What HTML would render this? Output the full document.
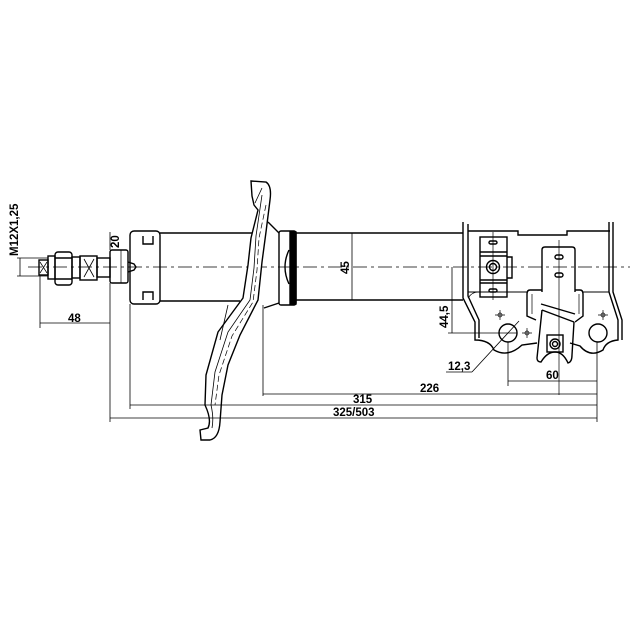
<!DOCTYPE html>
<html><head><meta charset="utf-8"><style>
html,body{margin:0;padding:0;background:#fff;}
svg{display:block}
text{font-family:"Liberation Sans",sans-serif;font-weight:bold;font-size:11.5px;fill:#000}
</style></head><body>
<svg width="640" height="640" viewBox="0 0 640 640" xmlns="http://www.w3.org/2000/svg">
<g fill="none" stroke="#000" stroke-width="1.4">
<line x1="28" y1="267" x2="630" y2="267" stroke-width="0.8" stroke-dasharray="14,4,3,4"/>
<line x1="20" y1="258" x2="20" y2="276" stroke-width="0.8"/>
<line x1="17" y1="258" x2="48" y2="258" stroke-width="0.8"/>
<line x1="17" y1="276" x2="48" y2="276" stroke-width="0.8"/>
<rect x="39" y="260" width="9" height="15"/>
<path d="M40 262 L47 273 M47 262 L40 273" stroke-width="0.7"/>
<rect x="48" y="256" width="7" height="23"/>
<rect x="55" y="252" width="17" height="33" rx="3"/>
<line x1="55" y1="258" x2="72" y2="258"/><line x1="55" y1="279" x2="72" y2="279"/>
<rect x="72" y="257" width="8" height="21"/>
<rect x="80" y="256" width="17" height="24"/>
<path d="M84 259 L94 277 M94 259 L84 277" stroke-width="0.8"/>
<rect x="97" y="258" width="13" height="19"/>
<rect x="110" y="250" width="18" height="33" rx="2"/>
<line x1="121" y1="250" x2="121" y2="283" stroke-width="0.7"/>
<path d="M128 262 L134 264 L136 267 L134 270 L128 272"/>
<line x1="110" y1="232" x2="110" y2="250" stroke-width="0.8"/>
<rect x="130" y="231" width="30" height="73" rx="4"/>
<path d="M143 236 v8 h10 v-8 M143 300 v-8 h10 v8"/>
<line x1="160" y1="233" x2="252" y2="233"/>
<line x1="160" y1="301" x2="240" y2="301"/>
<rect x="279" y="231" width="17" height="74" rx="2"/>
<rect x="290" y="232" width="6" height="72" fill="#000"/>
<path d="M289 250 Q281 267 289 284"/>
<path d="M268 222 L279 233 M264 308 L279 303"/>
<line x1="296" y1="233" x2="463" y2="233"/>
<line x1="296" y1="300" x2="463" y2="300"/>
<path d="M251 181 L266 182 Q272 186 270 200 L266 232 L262 262 L258 300 L240 335 L228 365 L222 395 L220 422 Q219 438 210 440 L201 440 L200 430 L208 428 Q212 420 205 405 L206 375 L218 332 L243 298 L248 265 L251 238 L258 210 L254 205 L252 196 Z" fill="#fff"/>
<path d="M262 195 L256 236 L254 268 L250 300 L228 332 L215 372 L211 405 Q214 418 212 428" stroke-width="0.8"/>
<path d="M266 205 L259 238 L257 270 L253 302 L232 336 L219 375 L215 405" stroke-width="0.7" stroke-dasharray="6,3"/>
<path d="M228 305 L220 340 M255 203 L262 188" stroke-width="0.8"/>
<line x1="352" y1="233" x2="352" y2="300" stroke-width="0.8"/>
<path d="M463 222 L463 298 L475 322 L475 340 Q490 340 494 350 Q508 358 522 345 L537 343" />
<path d="M468 224 L468 296 L479 320 L479 338"/>
<path d="M468 231 L518 231 L518 235 L567 235 L567 231 L610 231"/>
<path d="M609 222 L609 292 L618 320 L618 340 Q606 341 603 350 Q590 358 580 346 L570 343"/>
<path d="M613 222 L613 292 L622 320 L622 340"/>
<path d="M468 292 L528 292 M582 292 L609 292" stroke-width="0.9"/>
<path d="M468 298 Q472 292 478 292" stroke-width="0.8"/>
<circle cx="508" cy="333" r="9"/>
<circle cx="598" cy="333" r="9"/>
<rect x="480" y="237" width="27" height="60"/>
<path d="M480 252 h27 M480 256 h27 M480 280 h27 M480 283 h27"/>
<path d="M507 257 h5 v21 h-5"/>
<circle cx="493" cy="267" r="6.5"/><circle cx="493" cy="267" r="3.5"/>
<rect x="489" y="241" width="8" height="3" rx="1.5"/>
<rect x="489" y="289" width="8" height="3" rx="1.5"/>
<path d="M542 292 L542 250 Q542 247 545 247 L572 247 Q575 247 575 250 L575 292"/>
<rect x="555" y="255" width="8" height="4" rx="2"/>
<rect x="555" y="273" width="8" height="4" rx="2"/>
<path d="M542 290 L530 290 Q527 290 527 294 L527 316 L536 320 M575 290 L580 290 Q583 290 583 294 L583 316 L575 322"/>
<path d="M532 294 L532 314 M579 294 L579 314" stroke-width="0.7"/>
<path d="M541 304 L575 314 M542 310 L574 322"/>
<path d="M542 310 L537 358 Q537 362 541 362 Q547 352 555 352 Q563 352 568 363 Q572 362 572 355 L574 322"/>
<rect x="547" y="335" width="16" height="17"/>
<circle cx="555" cy="344" r="5"/><circle cx="555" cy="344" r="2.5"/>
<g stroke-width="0.7">
<line x1="559" y1="240" x2="559" y2="395"/>
<line x1="493" y1="232" x2="493" y2="300"/>
<circle cx="500" cy="315" r="2"/><path d="M495 315h10M500 310v10"/>
<circle cx="527" cy="333" r="2"/><path d="M522 333h10M527 328v10"/>
<circle cx="603" cy="315" r="2"/><path d="M598 315h10M603 310v10"/>
<path d="M499 333h18"/>
</g>
<g stroke-width="0.8">
<line x1="40" y1="276" x2="40" y2="328"/>
<line x1="110" y1="283" x2="110" y2="422"/>
<line x1="40" y1="323" x2="110" y2="323"/>
<line x1="130" y1="304" x2="130" y2="409"/>
<line x1="263" y1="305" x2="263" y2="396"/>
<line x1="263" y1="394" x2="597" y2="394"/>
<line x1="130" y1="405" x2="597" y2="405"/>
<line x1="110" y1="418" x2="597" y2="418"/>
<line x1="597" y1="342" x2="597" y2="422"/>
<line x1="508" y1="342" x2="508" y2="386"/>
<line x1="508" y1="381" x2="597" y2="381"/>
<line x1="452" y1="267" x2="452" y2="333"/>
<line x1="448" y1="333" x2="500" y2="333"/>
<line x1="472" y1="372" x2="519" y2="321"/>
<line x1="446" y1="372" x2="472" y2="372"/>
</g>
</g>
<text x="0" y="0" transform="translate(18,256) rotate(-90)">M12X1,25</text>
<text x="0" y="0" transform="translate(119,248) rotate(-90)">20</text>
<text x="0" y="0" transform="translate(349,274) rotate(-90)">45</text>
<text x="0" y="0" transform="translate(448,328) rotate(-90)">44,5</text>
<text x="68" y="322">48</text>
<text x="448" y="370">12,3</text>
<text x="546" y="379">60</text>
<text x="420" y="392">226</text>
<text x="353" y="403">315</text>
<text x="333" y="416">325/503</text>
</svg>
</body></html>
